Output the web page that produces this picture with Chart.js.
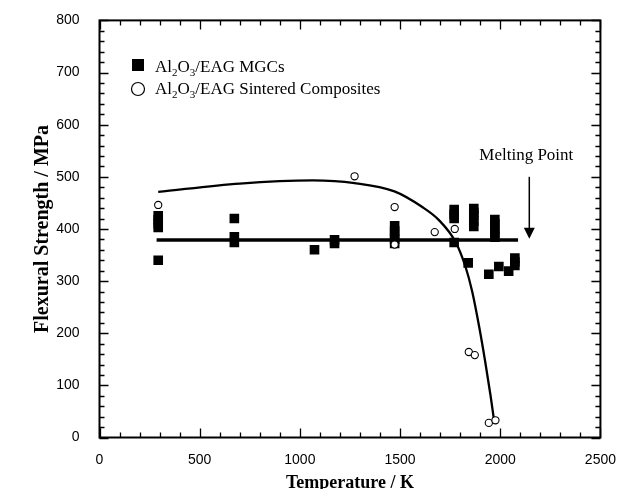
<!DOCTYPE html>
<html>
<head>
<meta charset="utf-8">
<script src="https://cdn.jsdelivr.net/npm/chart.js@4.4.0/dist/chart.umd.min.js"></script>
<style>
  html, body { margin: 0; padding: 0; background: #fff; }
  #wrap { width: 622px; height: 489px; }
</style>
</head>
<body>
<div id="wrap"><canvas id="chart"></canvas></div>
<script>
// Al2O3/EAG MGCs (filled squares): temperature [K], strength [MPa]
const mgcTemp     = [293, 293, 293, 293, 293, 673, 673, 673, 1073, 1173, 1173,
                     1473, 1473, 1473, 1473, 1473, 1770, 1770, 1770, 1770, 1840,
                     1868, 1868, 1868, 1868, 1868, 1943, 1973, 1973, 1973, 1973, 1973,
                     1993, 2042, 2073, 2073, 2073];
const mgcStrength = [403, 410, 418, 425, 340, 420, 374, 385, 360, 372, 379,
                     372, 380, 388, 396, 406, 420, 428, 437, 374, 335,
                     405, 415, 425, 432, 439, 313, 384, 392, 400, 410, 418,
                     328, 319, 330, 337, 344];

// Al2O3/EAG sintered composites (open circles)
const sintTemp     = [293, 1273, 1473, 1473, 1673, 1773, 1843, 1873, 1943, 1976];
const sintStrength = [446, 501, 442, 370, 394, 400, 164, 158, 28, 33];

// trend lines
const mgcLineTemp     = [285, 2089];
const mgcLineStrength = [379, 379];
const sintFitTemp     = [293, 700, 1064, 1273, 1472, 1611, 1694, 1777, 1827, 1860, 1896, 1926, 1951, 1968];
const sintFitStrength = [471, 487, 493, 488, 472, 442, 417, 375, 327, 280, 210, 143, 82, 36];

// melting point arrow
const meltTemp = 2145;
const meltArrowTop = 500;
const meltArrowTip = 381;

const toXY = (xs, ys) => xs.map((v, i) => ({ x: v, y: ys[i] }));

// inward ticks on all four sides, plus the box
const frameTicks = {
  id: 'frameTicks',
  afterDatasetsDraw(chart) {
    const { ctx, chartArea: a, scales: { x, y } } = chart;
    ctx.save();
    ctx.strokeStyle = '#000';
    ctx.lineWidth = 1.3;
    ctx.beginPath();
    x.ticks.forEach(t => {
      const px = Math.round(x.getPixelForValue(t.value)) + 0.5;
      const len = t.value % 500 === 0 ? 9 : 5;
      ctx.moveTo(px, a.bottom); ctx.lineTo(px, a.bottom - len);
      ctx.moveTo(px, a.top); ctx.lineTo(px, a.top + len);
    });
    y.ticks.forEach(t => {
      const py = Math.round(y.getPixelForValue(t.value)) + 0.5;
      const len = t.value % 100 === 0 ? 9 : 5;
      ctx.moveTo(a.left, py); ctx.lineTo(a.left + len, py);
      ctx.moveTo(a.right, py); ctx.lineTo(a.right - len, py);
    });
    ctx.stroke();
    ctx.lineWidth = 2;
    ctx.strokeRect(a.left, a.top, a.right - a.left, a.bottom - a.top);
    ctx.restore();
  }
};

// draw text with chemical subscripts: parts = [[text, isSub], ...]
function drawChem(ctx, parts, x, y, size) {
  let cx = x;
  parts.forEach(([txt, sub]) => {
    ctx.font = (sub ? Math.round(size * 0.65) : size) + 'px "Liberation Serif"';
    ctx.fillText(txt, cx, sub ? y + size * 0.22 : y);
    cx += ctx.measureText(txt).width;
  });
}

const annotations = {
  id: 'annotations',
  afterDraw(chart) {
    const { ctx, chartArea: a, scales: { x, y } } = chart;
    ctx.save();
    ctx.fillStyle = '#000';
    ctx.strokeStyle = '#000';
    ctx.textBaseline = 'alphabetic';

    // legend
    ctx.fillRect(132, 59, 12, 12);
    ctx.lineWidth = 1.2;
    ctx.beginPath();
    ctx.arc(138, 89, 6.5, 0, Math.PI * 2);
    ctx.stroke();
    ctx.textAlign = 'left';
    drawChem(ctx, [['Al', 0], ['2', 1], ['O', 0], ['3', 1], ['/EAG MGCs', 0]], 155, 72, 17);
    drawChem(ctx, [['Al', 0], ['2', 1], ['O', 0], ['3', 1], ['/EAG Sintered Composites', 0]], 155, 94, 17);

    // melting point arrow
    const mx = x.getPixelForValue(meltTemp);
    const yTop = y.getPixelForValue(meltArrowTop);
    const yTip = y.getPixelForValue(meltArrowTip);
    ctx.lineWidth = 1.5;
    ctx.beginPath();
    ctx.moveTo(mx, yTop); ctx.lineTo(mx, yTip - 8);
    ctx.stroke();
    ctx.beginPath();
    ctx.moveTo(mx - 5.5, yTip - 11); ctx.lineTo(mx + 5.5, yTip - 11); ctx.lineTo(mx, yTip);
    ctx.closePath(); ctx.fill();
    ctx.font = '17px "Liberation Serif"';
    ctx.textAlign = 'center';
    ctx.fillText('Melting Point', mx - 3, yTop - 17);

    // axis titles
    ctx.font = 'bold 18px "Liberation Serif"';
    ctx.fillText('Temperature / K', (a.left + a.right) / 2, 488);
    ctx.save();
    ctx.translate(48, (a.top + a.bottom) / 2);
    ctx.rotate(-Math.PI / 2);
    ctx.font = 'bold 20px "Liberation Serif"';
    ctx.fillText('Flexural Strength / MPa', 0, 0);
    ctx.restore();
    ctx.restore();
  }
};

new Chart(document.getElementById('chart'), {
  type: 'scatter',
  data: {
    datasets: [
      {
        label: 'Al2O3/EAG Sintered Composites',
        data: toXY(sintTemp, sintStrength),
        pointStyle: 'circle',
        pointRadius: 3.6,
        pointBorderWidth: 1.1,
        pointBackgroundColor: '#fff',
        pointBorderColor: '#000'
      },
      {
        label: 'Al2O3/EAG MGCs',
        data: toXY(mgcTemp, mgcStrength),
        pointStyle: 'rect',
        pointRadius: 6.8,
        pointBorderWidth: 0,
        pointBackgroundColor: '#000',
        pointBorderColor: '#000'
      },
      {
        label: 'MGC trend',
        data: toXY(mgcLineTemp, mgcLineStrength),
        showLine: true,
        pointRadius: 0,
        borderColor: '#000',
        borderWidth: 3.5
      },
      {
        label: 'Sintered trend',
        data: toXY(sintFitTemp, sintFitStrength),
        showLine: true,
        pointRadius: 0,
        borderColor: '#000',
        borderWidth: 2.3,
        cubicInterpolationMode: 'monotone'
      }
    ]
  },
  plugins: [frameTicks, annotations],
  options: {
    responsive: true,
    maintainAspectRatio: false,
    animation: false,
    layout: { padding: { top: 17, right: 20, left: 0, bottom: 0 } },
    plugins: { legend: { display: false }, tooltip: { enabled: false } },
    scales: {
      x: {
        type: 'linear',
        min: 0, max: 2500,
        grid: { display: false },
        border: { display: false },
        afterFit: s => { s.height = 51.5; },
        ticks: {
          stepSize: 100,
          autoSkip: false,
          maxRotation: 0,
          padding: 6,
          color: '#000',
          font: { family: 'Liberation Sans', size: 14 },
          callback: v => (v % 500 === 0 ? String(v) : '')
        }
      },
      y: {
        type: 'linear',
        min: 0, max: 800,
        grid: { display: false },
        border: { display: false },
        afterFit: s => { s.width = 99.5; },
        ticks: {
          stepSize: 20,
          autoSkip: false,
          padding: 12,
          color: '#000',
          font: { family: 'Liberation Sans', size: 14 },
          callback: v => (v % 100 === 0 ? String(v) : '')
        }
      }
    }
  }
});
</script>
</body>
</html>
